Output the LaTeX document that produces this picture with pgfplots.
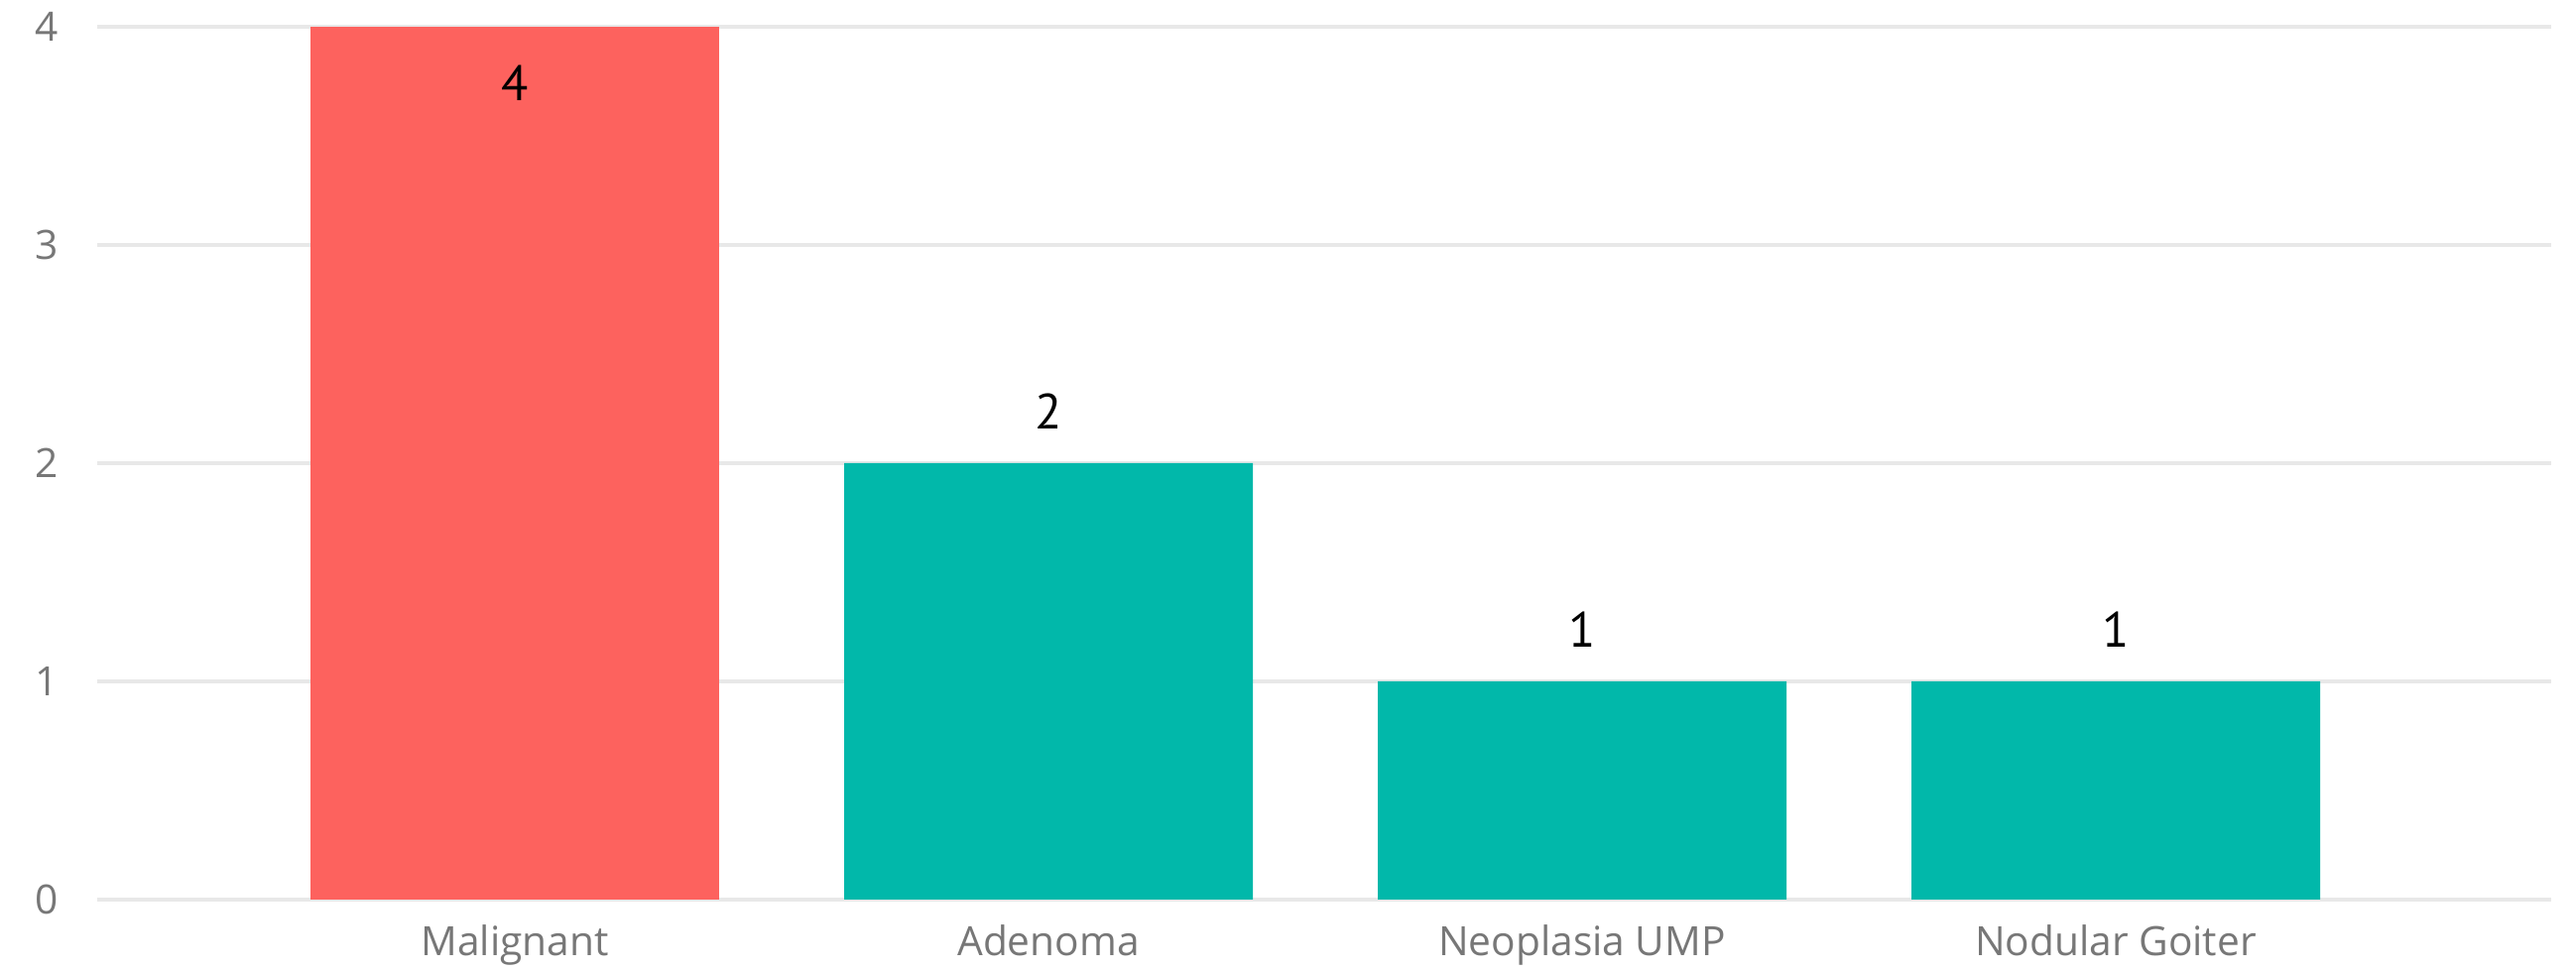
\documentclass[border=0pt]{standalone}
\usepackage{fontspec}
\setmainfont{Open Sans}
\newfontfamily\labelfont{PT Sans}
\usepackage{pgfplots}
\pgfplotsset{compat=1.18}
\usetikzlibrary{calc}

\definecolor{pbired}{HTML}{FD625E}
\definecolor{pbiteal}{HTML}{01B8AA}
\definecolor{gridgray}{HTML}{E8E8E8}
\definecolor{labelgray}{HTML}{777777}

\begin{document}
\begin{tikzpicture}
\begin{axis}[
    scale only axis,
    width=742.2pt,
    height=264pt,
    xmin=-0.7825, xmax=3.816,
    ymin=0, ymax=4,
    enlargelimits=false,
    xtick={0,1,2,3},
    xticklabels={Malignant,Adenoma,Neoplasia UMP,Nodular Goiter},
    ytick={0,1,2,3,4},
    axis line style={draw=none},
    major tick length=0pt,
    ymajorgrids,
    grid style={draw=gridgray, line width=1.2pt},
    tick label style={font=\fontsize{12.2}{14}\selectfont, text=labelgray},
    /pgf/number format/assume math mode=true,
    yticklabel style={anchor=east, inner sep=0pt, xshift=-11.5pt},
    xticklabel style={anchor=north, inner sep=0pt, yshift=-7.5pt},
    ybar,
    bar width=123.6pt,
    bar shift=0pt,
    nodes near coords,
    every node near coord/.append style={font=\labelfont\fontsize{15}{17}\selectfont, text=black, anchor=center},
]
\addplot[fill=pbired, draw=none,
    every node near coord/.append style={yshift=-17pt}]
    coordinates {(0,4)};
\addplot[fill=pbiteal, draw=none,
    every node near coord/.append style={yshift=15.6pt}]
    coordinates {(1,2) (2,1) (3,1)};
\coordinate (origin) at (axis cs:0,0);
\end{axis}
\pgfresetboundingbox
\path ($(origin)+(-155.7pt,-21.9pt)$) rectangle ++(779.1pt,294pt);
\end{tikzpicture}
\end{document}
